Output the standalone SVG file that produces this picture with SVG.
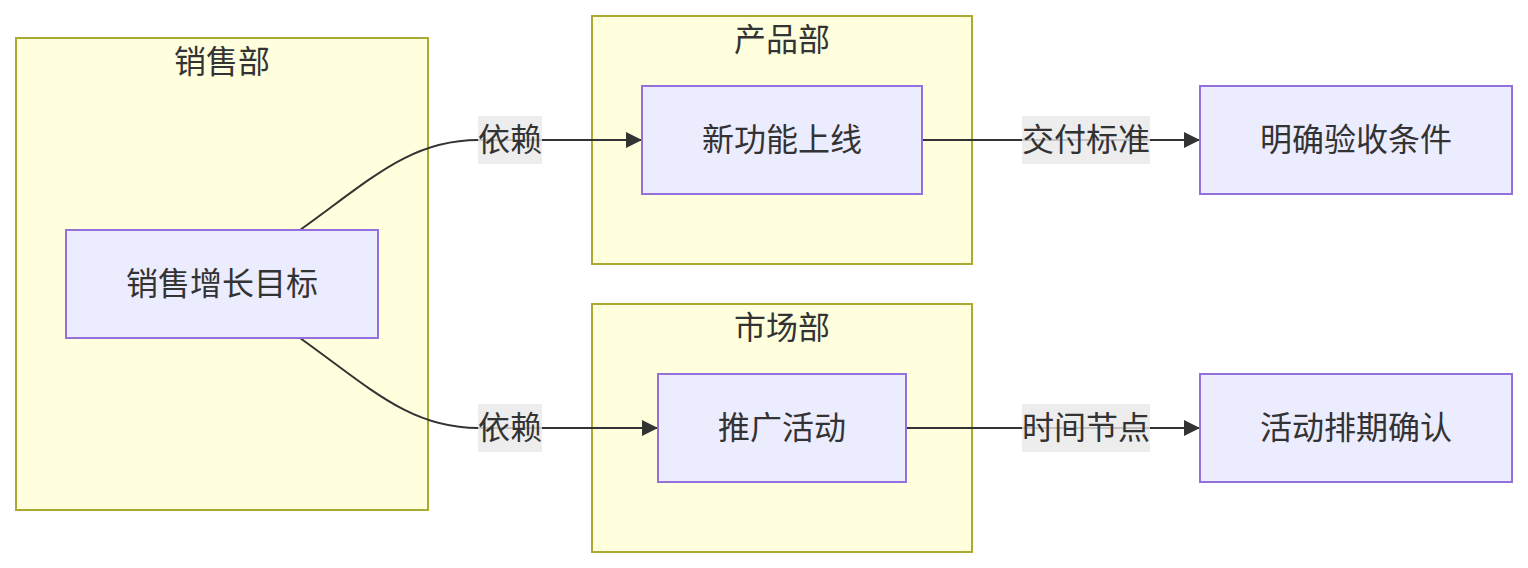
<svg xmlns="http://www.w3.org/2000/svg" width="1528" height="568" viewBox="0 0 1528 568">
<style>
text{font-family:"Noto Sans CJK SC","Noto Sans",sans-serif;font-size:32px;fill:#333;text-anchor:middle;dominant-baseline:central}
.cluster{fill:#ffffde;stroke:#aaaa33;stroke-width:2}
.node{fill:#ececff;stroke:#9370db;stroke-width:2}
.edge{fill:none;stroke:#333;stroke-width:2}
.lbl{fill:#e8e8e8;opacity:0.8}
</style>
<defs>
<marker id="arrow" markerUnits="userSpaceOnUse" markerWidth="16" markerHeight="16" refX="16" refY="8" orient="auto">
<path d="M0,0 L16,8 L0,16 z" fill="#333"/>
</marker>
</defs>
<g id="cluster-sales">
<rect class="cluster" x="16" y="38" width="412" height="472"/>
<text x="222" y="59">销售部</text>
</g>
<g id="cluster-product">
<rect class="cluster" x="592" y="16" width="380" height="248"/>
<text x="782" y="37">产品部</text>
</g>
<g id="cluster-market">
<rect class="cluster" x="592" y="304" width="380" height="248"/>
<text x="782" y="325">市场部</text>
</g>
<g id="connectors">
<path class="edge" d="M300,230 C370,180 410,140 478,140 L642,140" marker-end="url(#arrow)"/>
<path class="edge" d="M300,338 C370,388 410,428 478,428 L658,428" marker-end="url(#arrow)"/>
<path class="edge" d="M922,140 L1200,140" marker-end="url(#arrow)"/>
<path class="edge" d="M906,428 L1200,428" marker-end="url(#arrow)"/>
<rect class="lbl" x="478" y="116" width="64" height="48"/>
<text x="510" y="137">依赖</text>
<rect class="lbl" x="478" y="404" width="64" height="48"/>
<text x="510" y="425">依赖</text>
<rect class="lbl" x="1022" y="116" width="128" height="48"/>
<text x="1086" y="137">交付标准</text>
<rect class="lbl" x="1022" y="404" width="128" height="48"/>
<text x="1086" y="425">时间节点</text>
</g>
<g id="node-sales-goal">
<rect class="node" x="66" y="230" width="312" height="108"/>
<text x="222" y="281">销售增长目标</text>
</g>
<g id="node-feature">
<rect class="node" x="642" y="86" width="280" height="108"/>
<text x="782" y="137">新功能上线</text>
</g>
<g id="node-promo">
<rect class="node" x="658" y="374" width="248" height="108"/>
<text x="782" y="425">推广活动</text>
</g>
<g id="node-acceptance">
<rect class="node" x="1200" y="86" width="312" height="108"/>
<text x="1356" y="137">明确验收条件</text>
</g>
<g id="node-schedule">
<rect class="node" x="1200" y="374" width="312" height="108"/>
<text x="1356" y="425">活动排期确认</text>
</g>
</svg>
